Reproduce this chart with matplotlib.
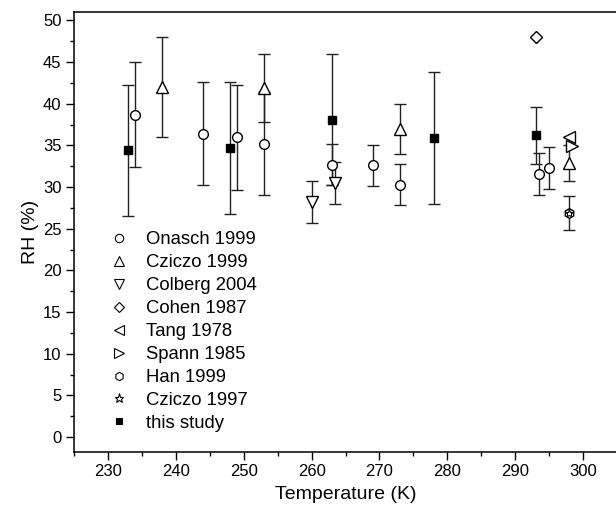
import matplotlib
matplotlib.use("Agg")
import matplotlib.pyplot as plt
from matplotlib.ticker import MultipleLocator
from matplotlib.lines import Line2D

plt.rcParams['font.family'] = ['Liberation Sans', 'DejaVu Sans']

# Data (Temperature K, RH %, error)
onasch_x = [234, 244, 249, 253, 263, 269, 273, 293.5, 295]
onasch_y = [38.7, 36.4, 36.0, 35.2, 32.7, 32.6, 30.3, 31.6, 32.3]
onasch_e = [6.3, 6.2, 6.3, 6.2, 2.5, 2.5, 2.5, 2.5, 2.5]

cziczo99_x = [238, 253, 273, 298]
cziczo99_y = [42.0, 41.9, 37.0, 32.9]
cziczo99_e = [6.0, 4.1, 3.0, 2.2]

colberg_x = [260, 263.4]
colberg_y = [28.2, 30.5]
colberg_e = [2.5, 2.5]

cohen_x = [293]
cohen_y = [48.0]

tang_x = [297.9]
tang_y = [36.0]

spann_x = [298.3]
spann_y = [34.9]

han_x = [298]
han_y = [26.9]
han_e = [2.0]

cziczo97_x = [298]
cziczo97_y = [26.9]

study_x = [233, 248, 263, 278, 293]
study_y = [34.4, 34.7, 38.1, 35.9, 36.2]
study_e = [7.9, 7.9, 7.9, 7.9, 3.4]

labels = ['Onasch 1999', 'Cziczo 1999', 'Colberg 2004', 'Cohen 1987', 'Tang 1978',
          'Spann 1985', 'Han 1999', 'Cziczo 1997', 'this study']

fig = plt.figure(figsize=(6.16, 5.15), dpi=100)
ax = fig.add_axes([74/616, (515-452)/515, (617-74)/616, (452-12)/515])

ecol = '#222222'
kw_err = dict(ecolor=ecol, elinewidth=1.0, capsize=4.5, capthick=1.0, ls='none')

ax.errorbar(study_x, study_y, yerr=study_e, fmt='s', mfc='black', mec='black', ms=6.0, **kw_err, zorder=3)
ax.errorbar(onasch_x, onasch_y, yerr=onasch_e, fmt='o', mfc='white', mec='black', mew=1.0, ms=7.0, **kw_err, zorder=3)
ax.errorbar(cziczo99_x, cziczo99_y, yerr=cziczo99_e, fmt='^', mfc='white', mec='black', mew=1.0, ms=8.0, **kw_err, zorder=3)
ax.errorbar(colberg_x, colberg_y, yerr=colberg_e, fmt='v', mfc='white', mec='black', mew=1.0, ms=8.0, **kw_err, zorder=3)
ax.errorbar(han_x, han_y, yerr=han_e, fmt='h', mfc='white', mec='black', mew=1.0, ms=7.0, **kw_err, zorder=3)

ax.plot(cohen_x, cohen_y, 'D', mfc='white', mec='black', mew=1.0, ms=6.2, ls='none', zorder=4)
ax.plot(tang_x, tang_y, '<', mfc='white', mec='black', mew=1.0, ms=8.0, ls='none', zorder=4)
ax.plot(spann_x, spann_y, '>', mfc='white', mec='black', mew=1.0, ms=8.0, ls='none', zorder=4)
ax.plot(cziczo97_x, cziczo97_y, '*', mfc='white', mec='black', mew=0.8, ms=6.0, ls='none', zorder=5)

def h(m, fc='white', ms=6):
    return Line2D([], [], marker=m, ls='none', mfc=fc, mec='black', mew=0.8, ms=ms)
handles = [h('o', ms=6), h('^', ms=6.5), h('v', ms=6.5), h('D', ms=5), h('<', ms=6.5),
           h('>', ms=6.5), h('h', ms=6), h('*', ms=6.5), h('s', fc='black', ms=5)]
fig.legend(handles, labels, loc='upper left', bbox_to_anchor=(111/616, 1 - 231.5/515),
           frameon=False, fontsize=13.3, labelspacing=0.32, handletextpad=1.0,
           handlelength=0.9, borderpad=0, borderaxespad=0)

ax.set_xlim(225, 305)
ax.set_ylim(-1.8, 51.0)
ax.xaxis.set_major_locator(MultipleLocator(10))
ax.xaxis.set_minor_locator(MultipleLocator(5))
ax.yaxis.set_major_locator(MultipleLocator(5))
ax.yaxis.set_minor_locator(MultipleLocator(2.5))
ax.tick_params(which='major', direction='out', length=5.5, width=1.0, labelsize=12)
ax.tick_params(which='minor', direction='out', length=3.0, width=1.0)
ax.tick_params(top=False, right=False)
for s in ax.spines.values():
    s.set_linewidth(1.1)

ax.set_xlabel('Temperature (K)', fontsize=14, labelpad=5)
ax.set_ylabel('RH (%)', fontsize=14, labelpad=3)

fig.savefig('out.png', dpi=100)
